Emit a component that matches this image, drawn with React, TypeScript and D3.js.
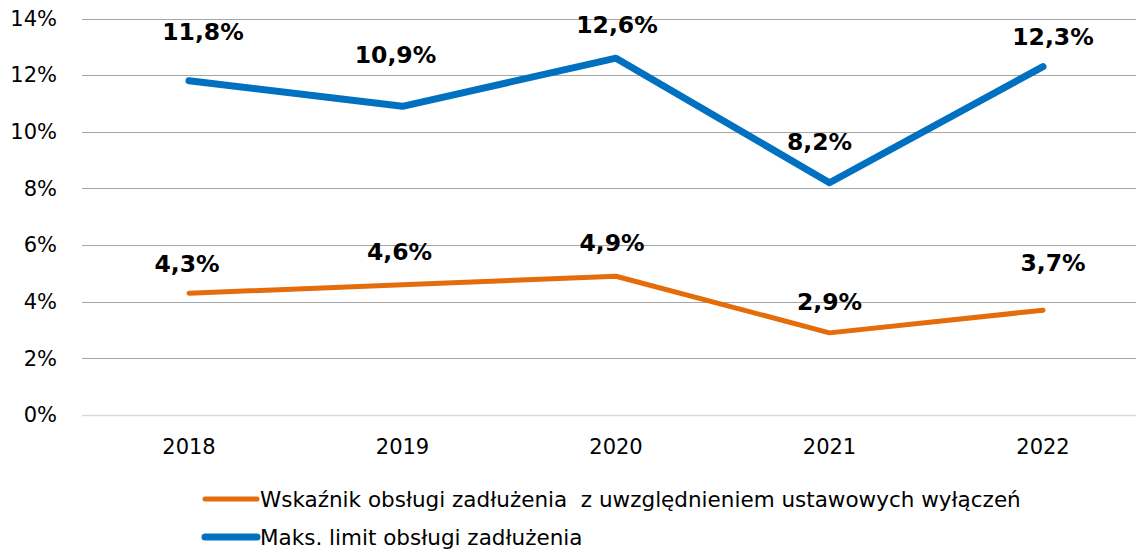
import React, { useEffect, useRef } from 'react';
import * as d3 from 'd3';

const years = ['2018', '2019', '2020', '2021', '2022'];
const ratioValues = [4.3, 4.6, 4.9, 2.9, 3.7];
const limitValues = [11.8, 10.9, 12.6, 8.2, 12.3];
const yTicks = [0, 2, 4, 6, 8, 10, 12, 14];
const ratioName = 'Wskaźnik obsługi zadłużenia\u00a0\u00a0z uwzględnieniem ustawowych wyłączeń';
const limitName = 'Maks. limit obsługi zadłużenia';

// manual data label nudges (dx, dy from the point), as placed in the source
const ratioLabelNudge: [number, number][] = [[-2, -29], [-3, -33], [-4, -33], [0, -31], [10, -47]];
const limitLabelNudge: [number, number][] = [[14, -49], [-7, -52], [1, -33], [-10, -41], [10, -30]];

const fmt = (v: number) => v.toFixed(1).replace('.', ',') + '%';

const App: React.FC = () => {
  const svgRef = useRef<SVGSVGElement>(null);

  useEffect(() => {
    if (!svgRef.current) return;
    const width = 1136;
    const height = 551;
    const svg = d3.select(svgRef.current);
    svg.selectAll('*').remove();

    const font = '"DejaVu Sans", Verdana, sans-serif';

    const x = d3.scalePoint<string>()
      .domain(years)
      .range([189, 1043]);

    const y = d3.scaleLinear()
      .domain([0, 14])
      .range([415, 18.5]);

    // Grid
    svg.append('g')
      .selectAll('line')
      .data(yTicks)
      .join('line')
      .attr('x1', 82)
      .attr('x2', width)
      .attr('y1', d => Math.round(y(d)) + 0.5)
      .attr('y2', d => Math.round(y(d)) + 0.5)
      .attr('stroke', d => (d === 0 ? '#d9d9d9' : '#a6a6a6'))
      .attr('stroke-width', d => (d === 0 ? 1.5 : 1.2));

    // Y tick labels
    svg.append('g')
      .selectAll('text')
      .data(yTicks)
      .join('text')
      .attr('x', 57)
      .attr('y', d => y(d))
      .attr('dy', '0.35em')
      .attr('text-anchor', 'end')
      .attr('font-family', font)
      .attr('font-size', 21)
      .attr('fill', '#000')
      .text(d => `${d}%`);

    // X labels
    svg.append('g')
      .selectAll('text')
      .data(years)
      .join('text')
      .attr('x', d => x(d)!)
      .attr('y', 447)
      .attr('dy', '0.35em')
      .attr('text-anchor', 'middle')
      .attr('font-family', font)
      .attr('font-size', 21)
      .attr('fill', '#000')
      .text(d => d);

    const line = d3.line<number>()
      .x((_, i) => x(years[i])!)
      .y(d => y(d));

    const series = [
      { values: ratioValues, color: '#e46c0a', width: 5, nudge: ratioLabelNudge },
      { values: limitValues, color: '#0070c0', width: 7, nudge: limitLabelNudge },
    ];

    series.forEach(s => {
      svg.append('path')
        .datum(s.values)
        .attr('fill', 'none')
        .attr('stroke', s.color)
        .attr('stroke-width', s.width)
        .attr('stroke-linecap', 'round')
        .attr('stroke-linejoin', 'round')
        .attr('d', line);

      svg.append('g')
        .selectAll('text')
        .data(s.values)
        .join('text')
        .attr('x', (d, i) => x(years[i])! + s.nudge[i][0])
        .attr('y', (d, i) => y(d) + s.nudge[i][1])
        .attr('dy', '0.35em')
        .attr('text-anchor', 'middle')
        .attr('font-family', font)
        .attr('font-weight', 'bold')
        .attr('font-size', 23.5)
        .attr('fill', '#000')
        .text(d => fmt(d));
    });

    // Legend
    const legend = [
      { name: ratioName, color: '#e46c0a', y: 499 },
      { name: limitName, color: '#0070c0', y: 537 },
    ];
    const lg = svg.append('g');
    legend.forEach(l => {
      lg.append('line')
        .attr('x1', 205)
        .attr('x2', 257)
        .attr('y1', l.y)
        .attr('y2', l.y)
        .attr('stroke', l.color)
        .attr('stroke-width', l.color === '#0070c0' ? 7 : 5)
        .attr('stroke-linecap', 'round');
      lg.append('text')
        .attr('x', 260)
        .attr('y', l.y)
        .attr('dy', '0.35em')
        .attr('font-family', font)
        .attr('font-size', 21.5)
        .attr('fill', '#000')
        .text(l.name);
    });

    svg.attr('width', width).attr('height', height);
  }, []);

  return (
    <svg
      ref={svgRef}
      width={1136}
      height={551}
      style={{ position: 'absolute', left: 0, top: 0, background: '#fff' }}
    />
  );
};

export default App;
